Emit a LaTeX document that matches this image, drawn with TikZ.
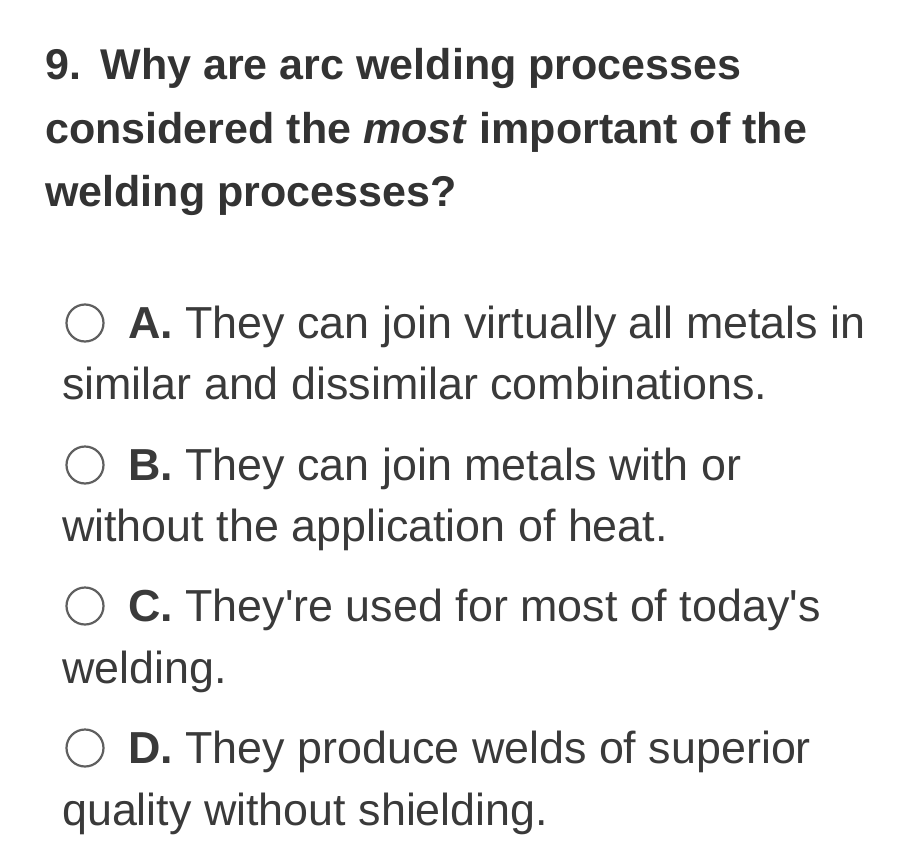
\documentclass[tikz,border=0pt]{standalone}
\usepackage{fontspec}
\setmainfont{Liberation Sans}[Ligatures=TeXOff]
\definecolor{qtext}{HTML}{333333}
\definecolor{otext}{HTML}{3A3A3A}
\definecolor{circ}{HTML}{5F5F5F}
\begin{document}
\begin{tikzpicture}[x=1bp,y=-1bp,
  qline/.style={anchor=base west,inner sep=0,font=\fontsize{43.2}{48}\selectfont\bfseries,text=qtext},
  oline/.style={anchor=base west,inner sep=0,font=\fontsize{45}{48}\selectfont,text=otext},
  radio/.style={circle,draw=circ,line width=2.2bp,minimum size=37bp,inner sep=0}]
\useasboundingbox[fill=white] (0,0) rectangle (918,867);
\node[qline] (q1) at (45,79) {9.\hspace{0.45em}Why are arc welding processes};
\node[qline] (q2) at (45,143) {considered the \textit{most} important of the};
\node[qline] (q3) at (45,206) {welding processes?};
\node[radio] (ra) at (85,323) {};
\node[oline] (a1) at (128,338) {\textbf{A.} They can join virtually all metals in};
\node[oline] (a2) at (62,399) {similar and dissimilar combinations.};
\node[radio] (rb) at (85,465) {};
\node[oline] (b1) at (128,480) {\textbf{B.} They can join metals with or};
\node[oline] (b2) at (62,541) {without the application of heat.};
\node[radio] (rc) at (85,606) {};
\node[oline] (c1) at (128,621) {\textbf{C.} They're used for most of today's};
\node[oline] (c2) at (62,683) {welding.};
\node[radio] (rd) at (85,748) {};
\node[oline] (d1) at (128,763) {\textbf{D.} They produce welds of superior};
\node[oline] (d2) at (62,825) {quality without shielding.};
\end{tikzpicture}
\end{document}
